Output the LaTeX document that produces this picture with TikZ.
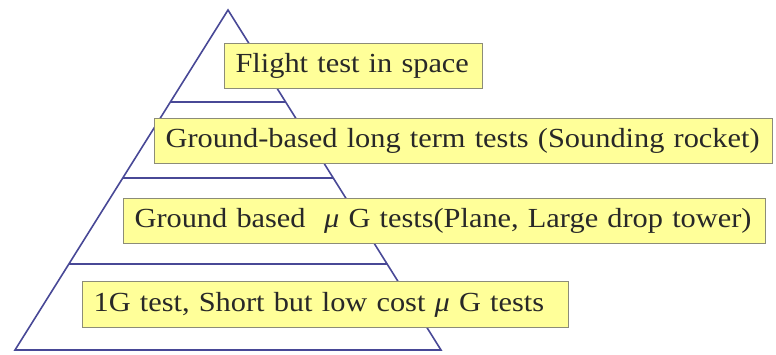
\documentclass[tikz,border=0pt]{standalone}
\usepackage{fontspec}
\setmainfont[FakeStretch=1.1]{Liberation Serif}
\usetikzlibrary{calc}

\definecolor{pyrline}{RGB}{72,72,150}
\definecolor{boxfill}{RGB}{255,255,153}
\definecolor{boxedge}{RGB}{140,140,120}
\definecolor{boxtext}{RGB}{40,40,40}

\tikzset{
  levelbox/.style={draw=boxedge, line width=1.2pt, fill=boxfill, anchor=north west,
    minimum height=45pt, inner xsep=11pt, inner ysep=0pt, align=left,
    text=boxtext, font=\fontsize{27.6}{32}\selectfont}
}

\begin{document}
\begin{tikzpicture}[x=1pt, y=-1pt]

\useasboundingbox (0,0) rectangle (776,354);

% Define vertices of the pyramid
\coordinate (A) at (228, 10);
\coordinate (B) at (15, 350);
\coordinate (C) at (441, 350);

% Points on the sides for the levels
\coordinate (L1) at ($(A)!0.2706!(B)$);
\coordinate (R1) at ($(A)!0.2706!(C)$);
\coordinate (L2) at ($(A)!0.494!(B)$);
\coordinate (R2) at ($(A)!0.494!(C)$);
\coordinate (L3) at ($(A)!0.747!(B)$);
\coordinate (R3) at ($(A)!0.747!(C)$);

% Draw the pyramid
\draw[pyrline, line width=1.6pt] (A) -- (B) -- (C) -- cycle;

% Draw the level lines
\draw[pyrline, line width=1.6pt] (L1) -- (R1);
\draw[pyrline, line width=1.6pt] (L2) -- (R2);
\draw[pyrline, line width=1.6pt] (L3) -- (R3);

% Labels of the levels
\node[levelbox, text width=236pt] (flight) at (224, 43) {\mbox{Flight test in space}};
\node[levelbox, text width=596pt] (rocket) at (154, 118) {\mbox{Ground-based long term tests (Sounding rocket)}};
\node[levelbox, text width=620pt] (tower) at (123, 198) {\mbox{Ground based \ {\itshape μ} G tests(Plane, Large drop tower)}};
\node[levelbox, text width=464pt, minimum height=46pt] (onegee) at (82, 281) {\mbox{1G test, Short but low cost {\itshape μ} G tests}};

\end{tikzpicture}
\end{document}
